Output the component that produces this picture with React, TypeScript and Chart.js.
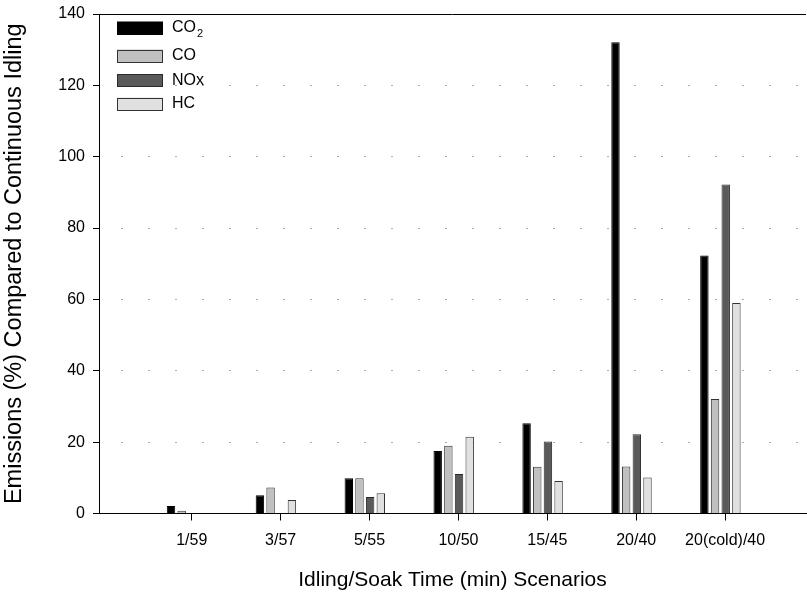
import { useEffect, useRef } from 'react';
import { Chart, registerables } from 'chart.js';
Chart.register(...registerables);

// ---- data ----
const categories = ['1/59', '3/57', '5/55', '10/50', '15/45', '20/40', '20(cold)/40'];
const seriesNames = ['CO₂', 'CO', 'NOx', 'HC'];
const co2 = [2.1, 5.1, 9.9, 17.5, 25.3, 132.1, 72.3];
const co = [0.8, 7.3, 9.9, 19.0, 13.1, 13.2, 32.1];
const nox = [0, 0, 4.6, 11.1, 20.2, 22.2, 92.2];
const hc = [0, 3.8, 5.7, 21.5, 9.1, 10.1, 59.0];
const yTicks = [0, 20, 40, 60, 80, 100, 120, 140];
const xTitle = 'Idling/Soak Time (min) Scenarios';
const yTitle = 'Emissions (%) Compared to Continuous Idling';

// ---- style ----
const FONT = "'Liberation Sans', Arial, Helvetica, sans-serif";
const fills = ['#000000', '#c0c0c0', '#5a5a5a', '#e0e0e0'];
const borders = ['#000000', '#333333', '#2a2a2a', '#333333'];
const GROUP_SHIFT = -0.053;
const legendRows = [28, 56, 80.5, 104];

const legendPlugin = {
  id: 'insideLegend',
  afterDraw(chart: any) {
    const ctx = chart.ctx;
    const area = chart.chartArea;
    ctx.save();
    ctx.strokeStyle = '#000';
    ctx.lineWidth = 1;
    ctx.beginPath();
    ctx.moveTo(area.left, Math.round(area.top) + 0.5);
    ctx.lineTo(area.right, Math.round(area.top) + 0.5);
    ctx.stroke();

    const boxX = area.left + 18;
    const boxW = 46;
    const boxH = 13;
    ctx.font = `16px ${FONT}`;
    ctx.textBaseline = 'middle';
    ctx.textAlign = 'left';
    chart.data.datasets.forEach((ds: any, i: number) => {
      const cy = legendRows[i];
      ctx.fillStyle = ds.backgroundColor;
      ctx.fillRect(boxX, cy - boxH / 2, boxW, boxH);
      ctx.strokeStyle = ds.borderColor;
      ctx.lineWidth = 1;
      ctx.strokeRect(Math.round(boxX) + 0.5, Math.round(cy - boxH / 2) + 0.5, boxW - 1, boxH - 1);
      ctx.fillStyle = '#000';
      const label: string = ds.label;
      const tx = boxX + boxW + 9;
      if (label.endsWith('₂')) {
        const base = label.slice(0, -1);
        ctx.font = `16px ${FONT}`;
        ctx.fillText(base, tx, cy);
        const w = ctx.measureText(base).width;
        ctx.font = `11px ${FONT}`;
        ctx.fillText('2', tx + w + 1, cy + 6);
        ctx.font = `16px ${FONT}`;
      } else {
        ctx.fillText(label, tx, cy);
      }
    });
    ctx.restore();
  },
};

export default function App() {
  const ref = useRef<HTMLCanvasElement>(null);
  useEffect(() => {
    const values = [co2, co, nox, hc];
    const datasets = seriesNames.map((name, k) => ({
      label: name,
      data: values[k].map((v, i) => ({ x: i + 1 + GROUP_SHIFT, y: v })),
      backgroundColor: fills[k],
      borderColor: borders[k],
      borderWidth: 1,
      categoryPercentage: 0.48,
      barPercentage: 0.79,
    }));
    const chart = new Chart(ref.current as HTMLCanvasElement, {
      type: 'bar',
      data: { datasets },
      plugins: [legendPlugin],
      options: {
        animation: false,
        responsive: false,
        devicePixelRatio: 1,
        events: [],
        layout: { padding: { top: 14, right: 1, left: 0, bottom: 0 } },
        plugins: { legend: { display: false }, tooltip: { enabled: false } },
        scales: {
          x: {
            type: 'linear',
            offset: false,
            min: -0.043,
            max: 7.91,
            afterBuildTicks: (scale: any) => {
              scale.ticks = categories.map((_, i) => ({ value: i + 1 }));
            },
            afterFit: (scale: any) => {
              scale.height = 87.5;
              scale.paddingLeft = 0;
              scale.paddingRight = 0;
            },
            grid: { offset: false, drawOnChartArea: false, drawTicks: true, tickLength: 7, tickColor: '#000', color: '#000' },
            border: { color: '#000', width: 1 },
            ticks: {
              autoSkip: false,
              maxRotation: 0,
              padding: 10,
              color: '#000',
              font: { family: FONT, size: 16 },
              callback: (v: any) => categories[Math.round(Number(v)) - 1] ?? '',
            },
            title: {
              display: true,
              text: xTitle,
              color: '#000',
              font: { family: FONT, size: 21 },
              padding: { top: 0, bottom: 8 },
            },
          },
          y: {
            min: 0,
            max: 140,
            afterBuildTicks: (scale: any) => {
              scale.ticks = yTicks.map((v) => ({ value: v }));
            },
            afterFit: (scale: any) => {
              scale.width = 99;
              scale.paddingTop = 0;
              scale.paddingBottom = 0;
            },
            grid: {
              drawTicks: true,
              tickLength: 6,
              tickColor: '#000',
              lineWidth: 1,
              color: (c: any) => (c.tick && (c.tick.value === 0 || c.tick.value === 140) ? 'rgba(0,0,0,0)' : '#aaaaaa'),
            },
            border: { color: '#000', width: 1, dash: [2, 25], dashOffset: 6 },
            ticks: {
              padding: 8,
              color: '#000',
              font: { family: FONT, size: 16 },
            },
            title: {
              display: true,
              text: yTitle,
              color: '#000',
              font: { family: FONT, size: 23.5 },
              padding: { top: 0, bottom: 0 },
            },
          },
        },
      },
    } as any);
    return () => chart.destroy();
  }, []);
  return (
    <div style={{ position: 'fixed', left: 0, top: 0, width: 807, height: 601, background: '#fff' }}>
      <canvas ref={ref} width={807} height={601} style={{ display: 'block' }} />
    </div>
  );
}
